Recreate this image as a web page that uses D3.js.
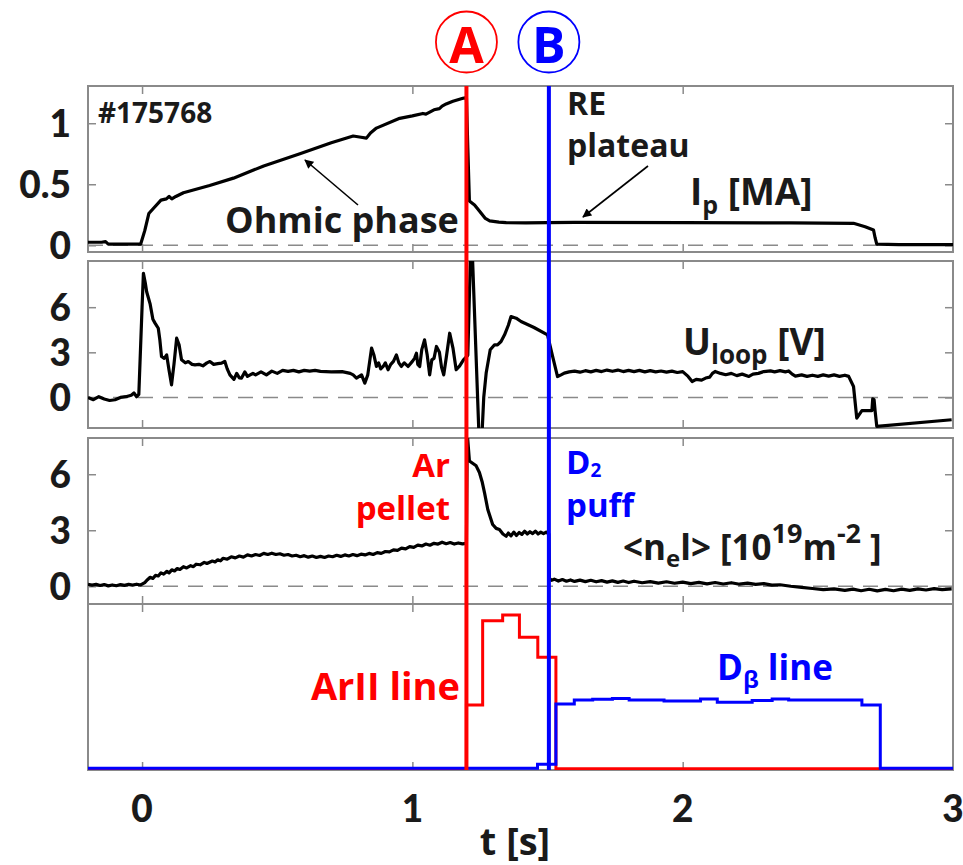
<!DOCTYPE html>
<html>
<head>
<meta charset="utf-8">
<script src="https://cdn.jsdelivr.net/npm/d3@7"></script>
<style>
  html, body { margin: 0; padding: 0; background: #fff; }
  svg { display: block; font-family: "Open Sans", "DejaVu Sans", sans-serif; font-weight: 700; }
</style>
</head>
<body>
<svg id="chart" width="963" height="865"></svg>
<script>
// ---------------- DATA ----------------
const xTicks = [0, 1, 2, 3];
const xTickLabels = ["0", "1", "2", "3"];
const shotLabel = "#175768";
const eventA = 1.2;   // Ar pellet
const eventB = 1.505; // D2 puff

// Panel 1: plasma current Ip [MA]
const ipTicks = [0, 0.5, 1];
const ipTickLabels = ["0", "0.5", "1"];
const ipData = [[-0.2,0.025],[-0.15,0.025],[-0.135,0.03],[-0.125,0.01],[-0.05,0.01],[-0.005,0.01],[0.01,0.12],[0.025,0.26],[0.045,0.31],[0.07,0.37],[0.09,0.38],[0.1,0.40],[0.11,0.38],[0.125,0.40],[0.153,0.43],[0.25,0.49],[0.338,0.55],[0.45,0.65],[0.584,0.75],[0.7,0.84],[0.781,0.895],[0.81,0.885],[0.83,0.878],[0.845,0.92],[0.867,0.96],[0.953,1.04],[1.0,1.06],[1.039,1.08],[1.05,1.075],[1.08,1.11],[1.1,1.12],[1.11,1.14],[1.125,1.158],[1.15,1.18],[1.187,1.205],[1.2,1.21],[1.205,0.8],[1.211,0.363],[1.23,0.33],[1.248,0.28],[1.27,0.22],[1.286,0.20],[1.32,0.19],[1.347,0.185],[1.42,0.183],[1.5,0.185],[1.6,0.188],[2.0,0.185],[2.4,0.183],[2.632,0.18],[2.675,0.152],[2.706,0.125],[2.712,0.06],[2.718,0.01],[2.8,0.005],[3.0,0.005]];

// Panel 2: loop voltage Uloop [V]
const uTicks = [0, 3, 6];
const uTickLabels = ["0", "3", "6"];
const uData = [[-0.2,0.0],[-0.18,-0.15],[-0.16,0.05],[-0.14,-0.1],[-0.12,-0.2],[-0.1,-0.15],[-0.08,0.0],[-0.06,0.05],[-0.04,0.15],[-0.03,0.3],[-0.02,0.05],[-0.012,0.2],[0.0,6.0],[0.005,8.25],[0.012,7.6],[0.017,7.03],[0.03,6.2],[0.04,5.2],[0.048,4.94],[0.06,4.6],[0.066,3.8],[0.072,2.72],[0.082,2.6],[0.091,2.83],[0.1,1.8],[0.109,0.84],[0.118,2.2],[0.128,3.94],[0.137,3.5],[0.146,2.5],[0.16,2.3],[0.171,2.39],[0.185,2.2],[0.196,2.17],[0.21,2.2],[0.225,2.1],[0.24,2.3],[0.251,2.39],[0.265,2.2],[0.28,2.25],[0.294,2.28],[0.306,2.4],[0.315,1.9],[0.325,1.5],[0.34,1.2],[0.35,1.6],[0.36,1.3],[0.368,1.29],[0.38,1.7],[0.39,1.4],[0.41,1.6],[0.42,1.5],[0.44,1.7],[0.46,1.5],[0.48,1.75],[0.5,1.6],[0.52,1.8],[0.54,1.73],[0.56,1.8],[0.58,1.7],[0.6,1.8],[0.62,1.75],[0.64,1.8],[0.66,1.73],[0.7,1.7],[0.74,1.72],[0.77,1.6],[0.781,1.5],[0.793,1.29],[0.812,1.5],[0.824,0.95],[0.835,1.5],[0.849,3.28],[0.858,2.8],[0.867,2.06],[0.875,2.3],[0.883,1.9],[0.892,2.06],[0.9,2.3],[0.91,1.84],[0.92,2.2],[0.93,2.4],[0.941,2.83],[0.95,2.3],[0.959,2.06],[0.97,2.3],[0.984,2.06],[1.0,2.4],[1.008,2.6],[1.015,2.94],[1.02,2.2],[1.027,2.06],[1.035,3.2],[1.045,3.83],[1.055,2.8],[1.064,1.5],[1.072,2.5],[1.08,2.6],[1.089,3.39],[1.1,3.0],[1.108,2.0],[1.116,1.5],[1.125,2.6],[1.138,4.27],[1.15,3.3],[1.162,1.84],[1.175,2.1],[1.189,2.5],[1.205,2.8],[1.215,9.5],[1.222,9.5],[1.246,-2.3],[1.258,-2.3],[1.264,0.0],[1.273,1.62],[1.288,3.17],[1.304,3.5],[1.315,3.5],[1.328,3.72],[1.341,4.16],[1.355,4.8],[1.365,5.38],[1.384,5.27],[1.402,5.05],[1.45,4.65],[1.5,4.16],[1.519,2.72],[1.537,1.39],[1.55,1.5],[1.562,1.62],[1.58,1.7],[1.6,1.75],[1.62,1.68],[1.64,1.78],[1.66,1.7],[1.68,1.8],[1.7,1.72],[1.72,1.82],[1.74,1.74],[1.76,1.82],[1.78,1.72],[1.8,1.8],[1.82,1.72],[1.84,1.8],[1.86,1.7],[1.88,1.78],[1.9,1.7],[1.92,1.76],[1.94,1.68],[1.96,1.75],[1.98,1.66],[2.0,1.72],[2.02,1.4],[2.035,1.06],[2.05,1.2],[2.07,1.15],[2.085,1.29],[2.1,1.35],[2.11,1.6],[2.12,1.73],[2.14,1.6],[2.159,1.51],[2.18,1.6],[2.2,1.45],[2.22,1.55],[2.245,1.4],[2.26,1.55],[2.28,1.6],[2.3,1.72],[2.325,1.77],[2.34,1.7],[2.36,1.78],[2.38,1.7],[2.392,1.76],[2.405,1.55],[2.417,1.42],[2.44,1.5],[2.46,1.4],[2.48,1.48],[2.5,1.4],[2.52,1.5],[2.54,1.42],[2.56,1.5],[2.58,1.4],[2.6,1.48],[2.614,1.4],[2.632,0.73],[2.644,-1.37],[2.663,-0.88],[2.7,-0.88],[2.703,-0.1],[2.708,-0.15],[2.712,-0.93],[2.718,-1.92],[2.995,-1.48]];

// Panel 3: line-integrated density <nel> [1e19 m^-2]
const nTicks = [0, 3, 6];
const nTickLabels = ["0", "3", "6"];
const nData = [[-0.2,0.1],[-0.185,0.06],[-0.17,0.1],[-0.155,0.04],[-0.14,0.09],[-0.125,0.02],[-0.11,0.07],[-0.095,0.03],[-0.08,0.09],[-0.065,0.05],[-0.05,0.1],[-0.035,0.06],[-0.02,0.11],[-0.005,0.07],[0.01,0.2],[0.02,0.35],[0.03,0.48],[0.04,0.42],[0.05,0.58],[0.06,0.55],[0.07,0.72],[0.08,0.65],[0.092,0.8],[0.1,0.72],[0.11,0.88],[0.12,0.82],[0.13,0.95],[0.14,0.9],[0.153,1.05],[0.165,0.98],[0.18,1.1],[0.19,1.05],[0.2,1.18],[0.215,1.15],[0.23,1.28],[0.24,1.22],[0.26,1.35],[0.27,1.3],[0.28,1.42],[0.29,1.36],[0.3,1.5],[0.315,1.45],[0.33,1.58],[0.345,1.52],[0.36,1.62],[0.375,1.56],[0.39,1.68],[0.405,1.62],[0.42,1.7],[0.435,1.65],[0.45,1.76],[0.465,1.7],[0.48,1.77],[0.495,1.7],[0.51,1.74],[0.525,1.66],[0.54,1.7],[0.555,1.62],[0.57,1.66],[0.585,1.58],[0.6,1.64],[0.615,1.56],[0.63,1.62],[0.645,1.54],[0.66,1.6],[0.675,1.54],[0.69,1.62],[0.705,1.58],[0.72,1.66],[0.735,1.6],[0.75,1.68],[0.765,1.62],[0.78,1.7],[0.795,1.64],[0.81,1.72],[0.825,1.68],[0.84,1.76],[0.855,1.7],[0.87,1.8],[0.885,1.76],[0.9,1.86],[0.915,1.84],[0.93,1.95],[0.945,1.92],[0.96,2.04],[0.975,2.0],[0.99,2.12],[1.005,2.08],[1.02,2.2],[1.035,2.16],[1.05,2.26],[1.065,2.2],[1.08,2.3],[1.095,2.26],[1.11,2.36],[1.125,2.28],[1.14,2.34],[1.155,2.26],[1.17,2.32],[1.185,2.27],[1.2,2.3],[1.203,8.2],[1.211,6.71],[1.236,6.45],[1.248,6.09],[1.258,5.6],[1.267,5.0],[1.279,4.11],[1.297,3.31],[1.31,3.1],[1.322,3.04],[1.335,2.8],[1.347,2.68],[1.355,2.85],[1.365,2.7],[1.375,2.9],[1.385,2.72],[1.395,2.88],[1.405,2.78],[1.415,2.95],[1.425,2.8],[1.435,2.92],[1.445,2.82],[1.455,2.95],[1.465,2.8],[1.475,2.9],[1.485,2.82],[1.495,2.9],[1.505,2.8],[1.507,0.42],[1.515,0.32],[1.525,0.38],[1.54,0.28],[1.555,0.36],[1.57,0.27],[1.585,0.34],[1.6,0.26],[1.62,0.33],[1.64,0.25],[1.66,0.32],[1.68,0.24],[1.7,0.3],[1.72,0.22],[1.74,0.29],[1.76,0.21],[1.78,0.28],[1.8,0.2],[1.82,0.27],[1.85,0.19],[1.88,0.25],[1.91,0.17],[1.94,0.24],[1.97,0.16],[2.0,0.22],[2.03,0.14],[2.06,0.21],[2.09,0.13],[2.12,0.2],[2.15,0.12],[2.18,0.19],[2.21,0.11],[2.24,0.17],[2.27,0.1],[2.3,0.14],[2.33,0.06],[2.36,0.08],[2.4,0.0],[2.44,-0.06],[2.48,-0.12],[2.52,-0.18],[2.56,-0.14],[2.6,-0.22],[2.63,-0.15],[2.66,-0.24],[2.69,-0.16],[2.72,-0.25],[2.75,-0.17],[2.78,-0.24],[2.81,-0.15],[2.84,-0.22],[2.87,-0.14],[2.9,-0.2],[2.93,-0.13],[2.96,-0.18],[2.995,-0.14]];

// Panel 4: spectral lines (arb. units), step signals
const arTime = [-0.2, 1.2, 1.26, 1.334, 1.396, 1.464, 1.531, 3.0];
const arValue = [0, 0.392, 0.899, 0.934, 0.799, 0.679, 0.008, 0.008];
const dbTime = [-0.2, 1.463, 1.531, 1.599, 1.667, 1.74, 1.802, 1.931, 2.066, 2.128, 2.257, 2.331, 2.392, 2.663, 2.731, 3.0];
const dbValue = [0.01, 0.035, 0.398, 0.422, 0.426, 0.431, 0.422, 0.416, 0.428, 0.408, 0.418, 0.428, 0.422, 0.392, 0.01, 0.01];

// ---------------- LAYOUT ----------------
const svg = d3.select("#chart");
const L = 88, R = 953;
const x = d3.scaleLinear().domain([-0.2, 3]).range([L, R]);

const panels = [
  {top: 86,  bottom: 252, domain: [-0.055, 1.305], ticks: ipTicks, labels: ipTickLabels, zero: true},
  {top: 261, bottom: 428, domain: [-2.03, 9.07],   ticks: uTicks,  labels: uTickLabels,  zero: true},
  {top: 438, bottom: 604, domain: [-0.95, 7.94],   ticks: nTicks,  labels: nTickLabels,  zero: true},
  {top: 604, bottom: 770, domain: [0, 1],          ticks: [],      labels: [],           zero: false}
];
panels.forEach(p => { p.y = d3.scaleLinear().domain(p.domain).range([p.bottom, p.top]); });

const frameColor = "#8a8a8a";
const textColor = "#1a1a1a";
const numFont = "Lato, 'Open Sans', sans-serif";
const tickLen = 8;

const defs = svg.append("defs");
panels.forEach((p, i) => {
  defs.append("clipPath").attr("id", "clip" + i)
    .append("rect").attr("x", L).attr("y", p.top).attr("width", R - L).attr("height", p.bottom - p.top);
});
defs.append("marker").attr("id", "arrow").attr("viewBox", "0 0 10 10")
  .attr("refX", 9).attr("refY", 5).attr("markerWidth", 10).attr("markerHeight", 9)
  .attr("markerUnits", "userSpaceOnUse").attr("orient", "auto")
  .append("path").attr("d", "M0,0 L10,5 L0,10 Z").attr("fill", "#000");

// frames, ticks, zero lines
panels.forEach((p, i) => {
  const g = svg.append("g");
  if (p.zero) {
    g.append("line").attr("x1", L).attr("x2", R).attr("y1", p.y(0)).attr("y2", p.y(0))
      .attr("stroke", "#8a8a8a").attr("stroke-width", 1.5).attr("stroke-dasharray", "15,10");
  }
  const axTop = d3.axisTop(x).tickValues(xTicks.slice(0, 3)).tickSize(-tickLen).tickFormat("");
  const axBot = d3.axisBottom(x).tickValues(xTicks.slice(0, 3)).tickSize(-tickLen).tickFormat("");
  g.append("g").attr("transform", `translate(0,${p.top})`).call(axTop);
  g.append("g").attr("transform", `translate(0,${p.bottom})`).call(axBot);
  if (p.ticks.length) {
    const axL = d3.axisLeft(p.y).tickValues(p.ticks).tickSize(-tickLen).tickFormat("");
    const axR = d3.axisRight(p.y).tickValues(p.ticks).tickSize(-tickLen).tickFormat("");
    g.append("g").attr("transform", `translate(${L},0)`).call(axL);
    g.append("g").attr("transform", `translate(${R},0)`).call(axR);
    p.ticks.forEach((t, k) => {
      svg.append("text").attr("x", 71).attr("y", p.y(t) + 13.5)
        .attr("text-anchor", "end").attr("font-size", 37).attr("font-family", numFont)
        .attr("font-weight", 900).attr("fill", textColor)
        .text(p.labels[k]);
    });
  }
  g.selectAll(".domain").remove();
  g.selectAll(".tick line").attr("stroke", frameColor).attr("stroke-width", 1.5);
  g.append("rect").attr("x", L).attr("y", p.top).attr("width", R - L).attr("height", p.bottom - p.top)
    .attr("fill", "none").attr("stroke", frameColor).attr("stroke-width", 2);
});

// traces
const mkLine = (p) => d3.line().x(d => x(d[0])).y(d => p.y(d[1]));
const traceStyle = (sel) => sel.attr("fill", "none").attr("stroke", "#000").attr("stroke-width", 3.2).attr("stroke-linejoin", "round");
svg.append("path").datum(ipData).attr("clip-path", "url(#clip0)").attr("d", mkLine(panels[0])).call(traceStyle);
svg.append("path").datum(uData).attr("clip-path", "url(#clip1)").attr("d", mkLine(panels[1])).call(traceStyle);
svg.append("path").datum(nData).attr("clip-path", "url(#clip2)").attr("d", mkLine(panels[2])).call(traceStyle);

const stepLine = (p) => d3.line().x(d => x(d[0])).y(d => p.y(d[1])).curve(d3.curveStepAfter);
const arSeries = arTime.map((t, i) => [t, arValue[i]]);
const dbSeries = dbTime.map((t, i) => [t, dbValue[i]]);
svg.append("path").datum(arSeries).attr("clip-path", "url(#clip3)").attr("d", stepLine(panels[3]))
  .attr("fill", "none").attr("stroke", "#ff0000").attr("stroke-width", 3);
svg.append("path").datum(dbSeries).attr("clip-path", "url(#clip3)").attr("d", stepLine(panels[3]))
  .attr("fill", "none").attr("stroke", "#0000ff").attr("stroke-width", 3);

// event marker lines
svg.append("line").attr("x1", x(eventA)).attr("x2", x(eventA)).attr("y1", panels[0].top).attr("y2", panels[3].bottom)
  .attr("stroke", "#ff0000").attr("stroke-width", 4);
svg.append("line").attr("x1", x(eventB)).attr("x2", x(eventB)).attr("y1", panels[0].top).attr("y2", panels[3].bottom)
  .attr("stroke", "#0000ff").attr("stroke-width", 4);

// circled event labels
[[eventA, "A", "#ff0000"], [eventB, "B", "#0000ff"]].forEach(([t, s, c]) => {
  const cx = x(t);
  svg.append("circle").attr("cx", cx).attr("cy", 42).attr("r", 30.5)
    .attr("fill", "#fff").attr("stroke", c).attr("stroke-width", 1.8);
  svg.append("text").attr("x", cx).attr("y", 63).attr("text-anchor", "middle")
    .attr("font-size", 50).attr("fill", c).text(s);
});

// x axis labels
xTicks.forEach((t, i) => {
  svg.append("text").attr("x", x(t)).attr("y", 822).attr("text-anchor", "middle")
    .attr("font-size", 37).attr("font-family", numFont).attr("font-weight", 900)
    .attr("fill", textColor).text(xTickLabels[i]);
});
svg.append("text").attr("x", 515).attr("y", 855).attr("text-anchor", "middle")
  .attr("font-size", 38).attr("fill", textColor).text("t [s]");

// annotations
const txt = (xx, yy, size, color, anchor) => svg.append("text").attr("x", xx).attr("y", yy)
  .attr("font-size", size).attr("fill", color).attr("text-anchor", anchor || "start");

txt(98, 123, 28, textColor).text(shotLabel);
txt(225, 233, 36, textColor).text("Ohmic phase");
svg.append("line").attr("x1", 358).attr("y1", 205).attr("x2", 305).attr("y2", 160)
  .attr("stroke", "#000").attr("stroke-width", 1.6).attr("marker-end", "url(#arrow)");

const re = txt(567, 115, 32, textColor);
re.append("tspan").attr("x", 567).text("RE");
re.append("tspan").attr("x", 567).attr("dy", 42).text("plateau");
svg.append("line").attr("x1", 648).attr("y1", 166).attr("x2", 583).attr("y2", 217)
  .attr("stroke", "#000").attr("stroke-width", 1.6).attr("marker-end", "url(#arrow)");

const ip = txt(690, 205, 37, textColor);
ip.append("tspan").text("I");
ip.append("tspan").attr("font-size", 25).attr("dy", 9).text("p");
ip.append("tspan").attr("dy", -9).text(" [MA]");

const ul = txt(683, 355, 37, textColor);
ul.append("tspan").text("U");
ul.append("tspan").attr("font-size", 26).attr("dy", 9).text("loop");
ul.append("tspan").attr("dy", -9).text(" [V]");

const ne = txt(623, 560, 35, textColor);
ne.append("tspan").text("<n");
ne.append("tspan").attr("font-size", 24).attr("dy", 7).text("e");
ne.append("tspan").attr("dy", -7).text("l> [10");
ne.append("tspan").attr("font-size", 27).attr("dy", -17).text("19");
ne.append("tspan").attr("dy", 17).text("m");
ne.append("tspan").attr("font-size", 27).attr("dy", -17).text("-2");
ne.append("tspan").attr("dy", 17).text(" ]");

const arp = txt(450, 477, 33, "#ff0000", "end");
arp.append("tspan").attr("x", 450).text("Ar");
arp.append("tspan").attr("x", 450).attr("dy", 43).text("pellet");

const d2 = txt(566, 474, 33, "#0000ff");
d2.append("tspan").attr("x", 566).text("D");
d2.append("tspan").attr("font-size", 19).attr("dy", 3).text("2");
d2.append("tspan").attr("x", 566).attr("dy", 40).text("puff");

txt(460, 700, 38, "#ff0000", "end").text("ArII line");
const db = txt(717, 680, 35, "#0000ff");
db.append("tspan").text("D");
db.append("tspan").attr("font-size", 24).attr("dy", 8).text("β");
db.append("tspan").attr("dy", -8).text(" line");
</script>
</body>
</html>
